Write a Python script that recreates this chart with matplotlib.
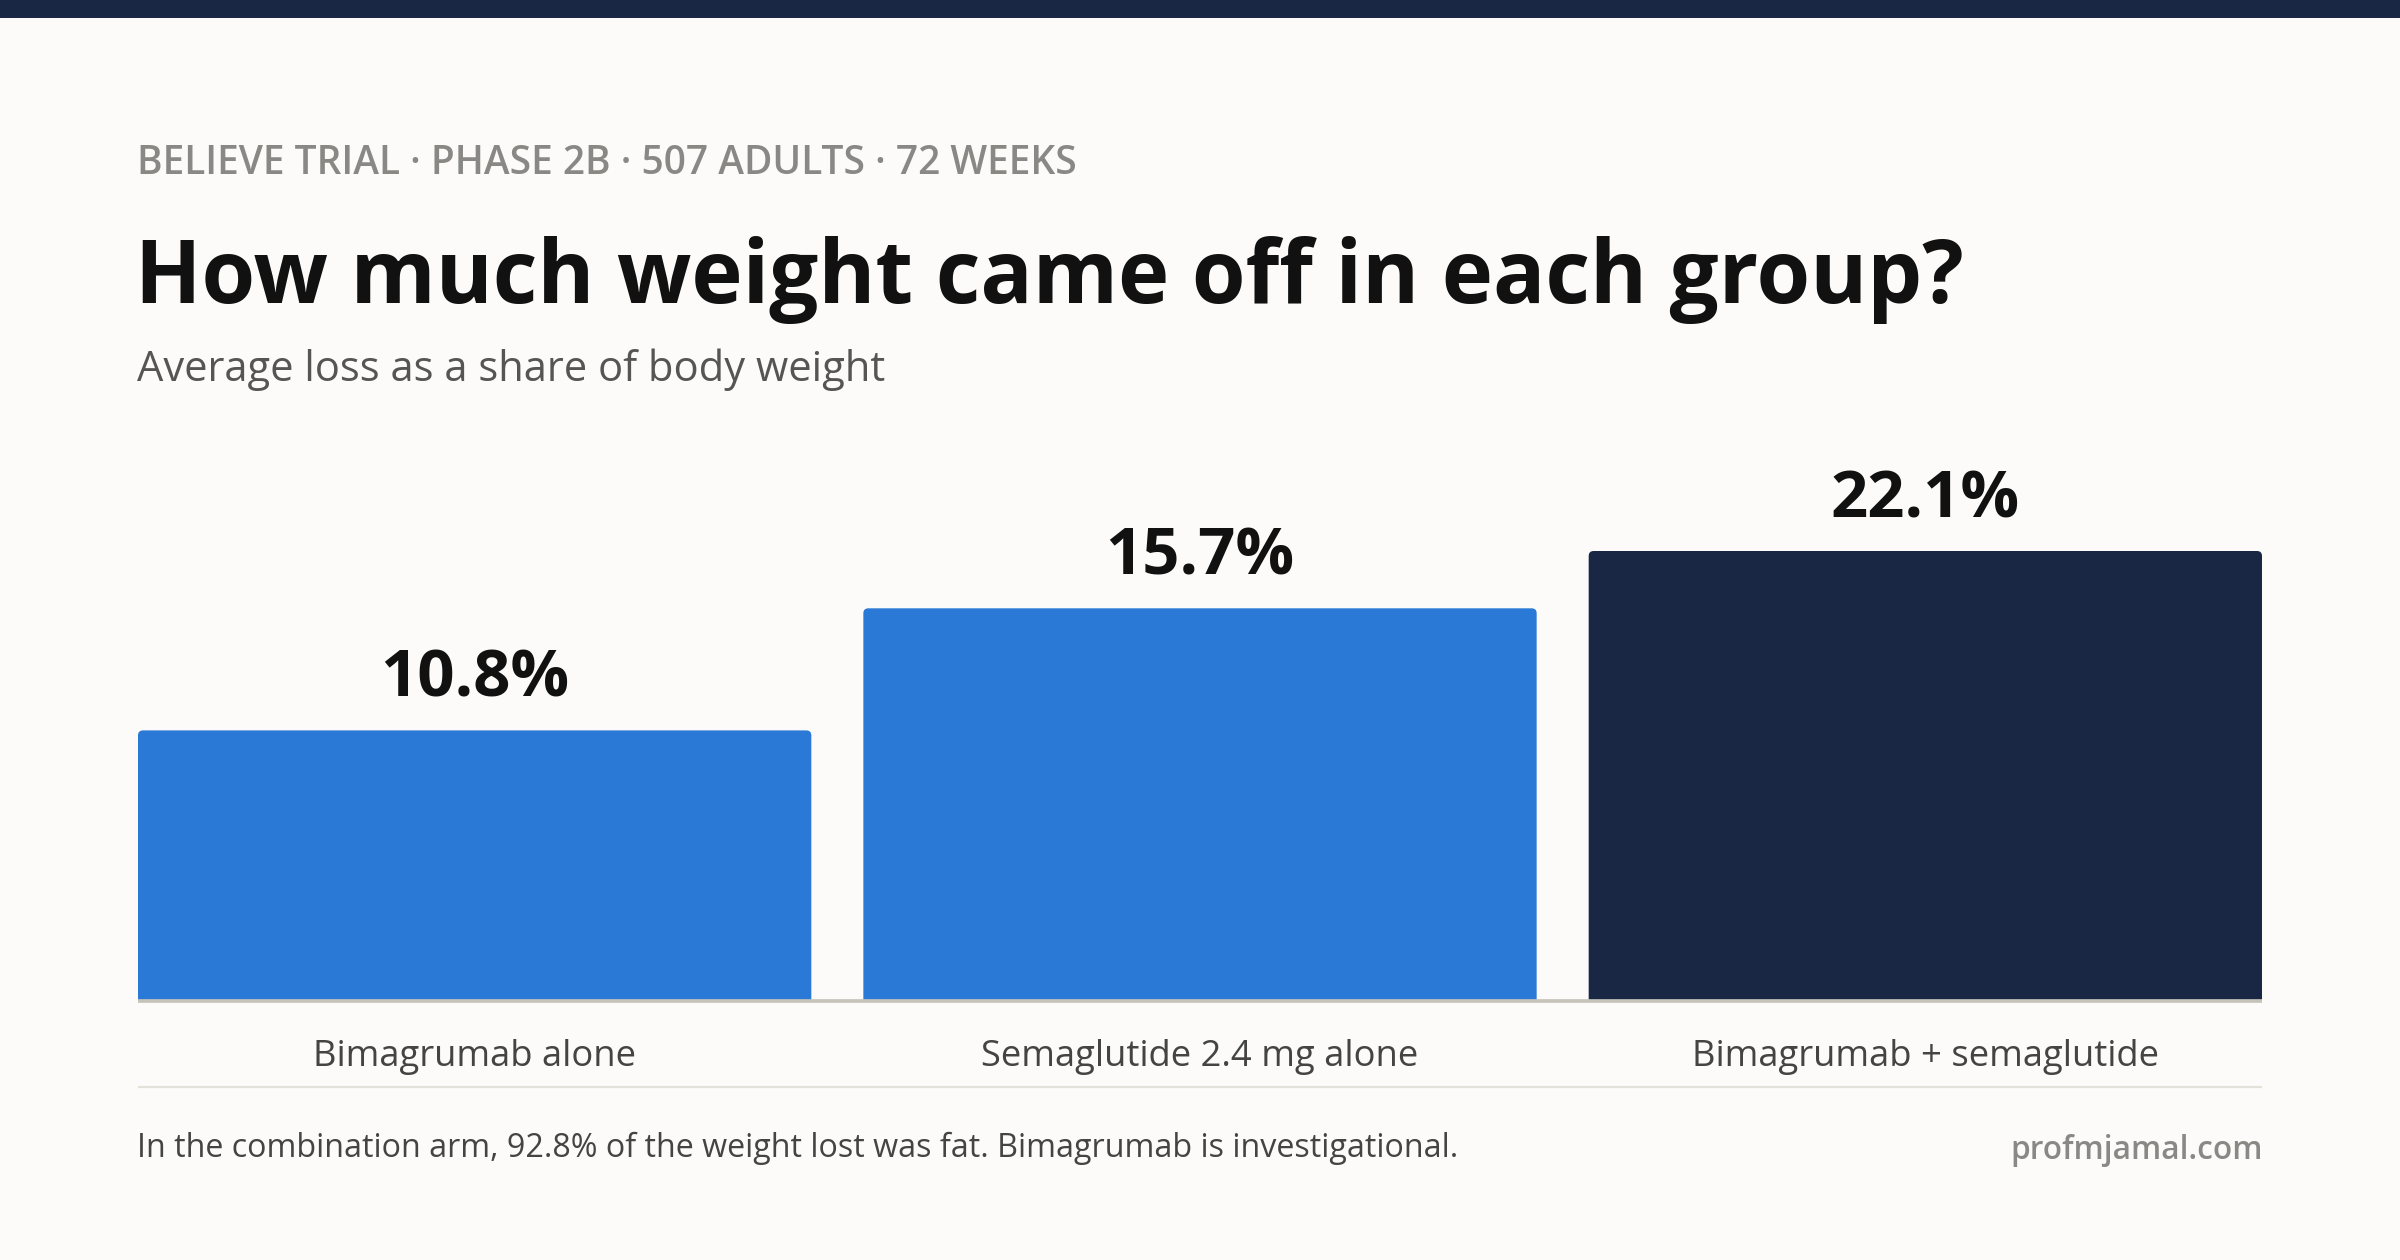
import numpy as np
import matplotlib
matplotlib.use("Agg")
import matplotlib.pyplot as plt
from matplotlib.patches import FancyBboxPatch, Rectangle
from matplotlib.lines import Line2D
import matplotlib.transforms as mtransforms

# ---- data ----
categories = ["Bimagrumab alone", "Semaglutide 2.4 mg alone", "Bimagrumab + semaglutide"]
values = [10.8, 15.7, 22.1]
value_labels = ["10.8%", "15.7%", "22.1%"]
bar_colors = ["#2a79d6", "#2a79d6", "#1a2744"]
scale_cap = 18.0  # bar scale tops out here in the original

eyebrow = "BELIEVE TRIAL · PHASE 2B · 507 ADULTS · 72 WEEKS"
title = "How much weight came off in each group?"
subtitle = "Average loss as a share of body weight"
footnote = "In the combination arm, 92.8% of the weight lost was fat. Bimagrumab is investigational."
credit = "profmjamal.com"

# ---- layout (pixels) ----
W, H, DPI = 2400, 1260, 200
BG = "#fcfbf9"
NAVY = "#1a2744"
FONT = ["Open Sans", "DejaVu Sans"]
plt.rcParams["font.family"] = FONT

fig = plt.figure(figsize=(W / DPI, H / DPI), dpi=DPI, facecolor=BG)

def fx(px):
    return px / W

def fy(py):
    return 1 - py / H

# top band
fig.patches.append(Rectangle((0, fy(17.5)), 1, 17.5 / H, transform=fig.transFigure,
                             facecolor=NAVY, edgecolor="none", zorder=0))

left_px, right_px = 138, 2262
base_px = 999.5
bar_top_px = 551.0
ax_top_px = 300.0
px_per_unit = (base_px - bar_top_px) / scale_cap
ax = fig.add_axes([fx(left_px), fy(base_px), fx(right_px - left_px), (base_px - ax_top_px) / H])
ax.set_facecolor("none")
for s in ax.spines.values():
    s.set_visible(False)
ax.set_xticks([])
ax.set_yticks([])

n = len(values)
bw = 673 / 725.0
ax.set_xlim(-bw / 2, n - 1 + bw / 2)
ax.set_ylim(0, (base_px - ax_top_px) / px_per_unit)

x_px_per_unit = (right_px - left_px) / (n - 1 + bw)
radius_px = 5.0
heights = np.minimum(np.array(values), scale_cap)
for i, (h, c) in enumerate(zip(heights, bar_colors)):
    p = FancyBboxPatch((i - bw / 2, -1.0), bw, h + 1.0,
                       boxstyle=f"round,pad=0,rounding_size={radius_px / x_px_per_unit}",
                       mutation_aspect=x_px_per_unit / px_per_unit,
                       facecolor=c, edgecolor="none", clip_on=True, zorder=2)
    ax.add_patch(p)
    ax.annotate(value_labels[i], (i, h), xytext=(0, 34 / DPI * 72), textcoords="offset points",
                ha="center", va="baseline", fontsize=23.5, fontweight="bold", color="#111111")

# baseline rule
fig.lines.append(Line2D([fx(left_px), fx(right_px)], [fy(1001), fy(1001)], transform=fig.transFigure,
                        color="#c5c3ba", lw=3.7 * 72 / DPI, solid_capstyle="butt"))
# category labels
trans = mtransforms.blended_transform_factory(ax.transData, fig.transFigure)
for i, cat in enumerate(categories):
    ax.text(i, fy(1066), cat, transform=trans, ha="center", va="baseline",
            fontsize=13.1, color="#444444", clip_on=False)
# separator
fig.lines.append(Line2D([fx(left_px), fx(right_px)], [fy(1087), fy(1087)], transform=fig.transFigure,
                        color="#e3e1da", lw=2.2 * 72 / DPI, solid_capstyle="butt"))

# headings
fig.text(fx(137), fy(174), eyebrow, fontsize=14, fontweight="semibold", color="#888884", va="baseline")
fig.text(fx(135), fy(303), title, fontsize=31.3, fontweight="bold", color="#111111", va="baseline")
fig.text(fx(137), fy(381), subtitle, fontsize=15, color="#555555", va="baseline")

# footer
fig.text(fx(137), fy(1157), footnote, fontsize=11.6, color="#444444", va="baseline")
fig.text(fx(2263), fy(1159), credit, fontsize=11.4, fontweight="semibold", color="#888884",
         va="baseline", ha="right")

fig.savefig("out.png", dpi=DPI, facecolor=BG)
